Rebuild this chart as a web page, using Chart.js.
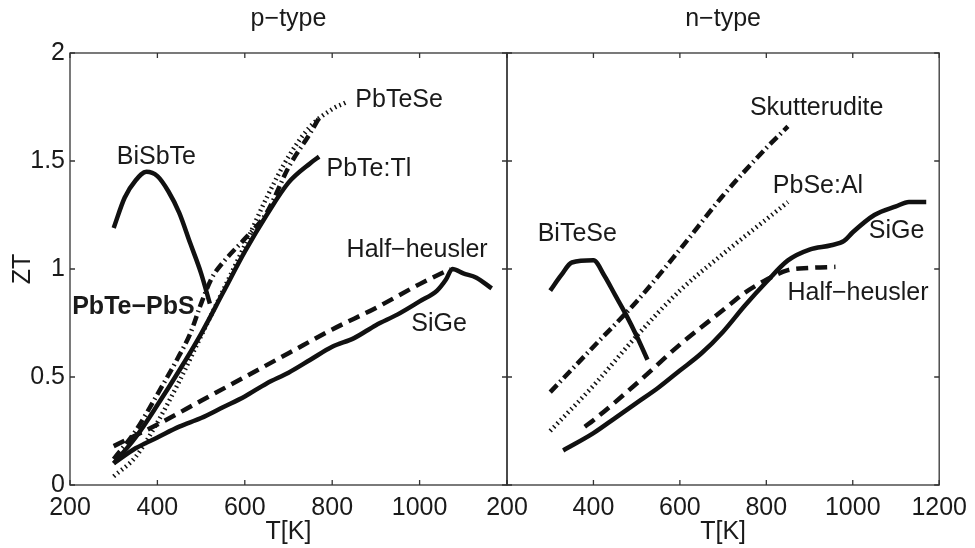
<!DOCTYPE html>
<html>
<head>
<meta charset="utf-8">
<script src="https://cdn.jsdelivr.net/npm/chart.js@4.4.0/dist/chart.umd.min.js"></script>
<style>
body { margin: 0; background: #fff; }
#wrap { position: relative; width: 975px; height: 548px; overflow: hidden; }
canvas { position: absolute; top: 0; }
#pChart { left: 0; }
#nChart { left: 440px; }
</style>
</head>
<body>
<div id="wrap">
<canvas id="pChart" width="515" height="548"></canvas>
<canvas id="nChart" width="535" height="548"></canvas>
</div>
<script>
// ---- p-type data (T in K, ZT) ----
var bisbteT  = [300, 325, 350, 375, 400, 425, 450, 475, 500, 520];
var bisbteZT = [1.19, 1.33, 1.41, 1.45, 1.43, 1.36, 1.26, 1.12, 0.98, 0.84];

var pbteTlT  = [300, 350, 400, 450, 500, 550, 600, 650, 700, 750, 770];
var pbteTlZT = [0.10, 0.22, 0.37, 0.53, 0.70, 0.89, 1.08, 1.25, 1.40, 1.49, 1.52];

var pbtePbsT  = [300, 350, 400, 450, 475, 500, 525, 550, 600, 650, 700, 750, 770];
var pbtePbsZT = [0.12, 0.25, 0.42, 0.60, 0.70, 0.84, 0.96, 1.03, 1.14, 1.26, 1.47, 1.63, 1.70];

var pbteSeT  = [300, 350, 400, 450, 500, 550, 600, 650, 700, 750, 800, 830];
var pbteSeZT = [0.04, 0.13, 0.29, 0.48, 0.69, 0.90, 1.11, 1.33, 1.52, 1.66, 1.74, 1.77];

var hhPT  = [300, 400, 500, 600, 700, 800, 900, 1000, 1070];
var hhPZT = [0.18, 0.28, 0.39, 0.50, 0.61, 0.72, 0.82, 0.93, 1.00];

var sigePT  = [300, 350, 400, 450, 500, 550, 600, 650, 700, 750, 800, 850, 900, 950, 1000, 1040, 1060, 1075, 1100, 1130, 1165];
var sigePZT = [0.10, 0.17, 0.22, 0.27, 0.31, 0.36, 0.41, 0.47, 0.52, 0.58, 0.64, 0.68, 0.74, 0.79, 0.85, 0.90, 0.95, 1.00, 0.98, 0.96, 0.91];

// ---- n-type data ----
var biteseT  = [300, 325, 350, 400, 425, 450, 475, 500, 525];
var biteseZT = [0.90, 0.97, 1.03, 1.04, 0.97, 0.88, 0.79, 0.69, 0.58];

var skuttT  = [300, 400, 500, 600, 700, 800, 850];
var skuttZT = [0.43, 0.64, 0.85, 1.09, 1.34, 1.56, 1.66];

var pbseAlT  = [300, 400, 500, 600, 700, 800, 850];
var pbseAlZT = [0.25, 0.46, 0.69, 0.90, 1.07, 1.23, 1.31];

var hhNT  = [380, 400, 500, 600, 700, 750, 800, 850, 900, 960];
var hhNZT = [0.27, 0.30, 0.47, 0.65, 0.81, 0.89, 0.95, 0.995, 1.005, 1.01];

var sigeNT  = [330, 400, 450, 500, 550, 600, 650, 700, 750, 800, 850, 900, 950, 980, 1000, 1050, 1100, 1130, 1170];
var sigeNZT = [0.16, 0.24, 0.31, 0.38, 0.45, 0.53, 0.61, 0.71, 0.83, 0.94, 1.04, 1.09, 1.11, 1.13, 1.17, 1.25, 1.29, 1.31, 1.31];

// ---- axis ticks ----
var xTicks = [200, 400, 600, 800, 1000, 1200];
var yTicks = [0, 0.5, 1, 1.5, 2];

// ---- curve labels (text, T, ZT) ----
var pLabelText = ["BiSbTe", "PbTeSe", "PbTe:Tl", "Half\u2212heusler", "SiGe", "PbTe\u2212PbS"];
var pLabelT    = [307, 853, 787, 833, 981, 205];
var pLabelZT   = [1.516, 1.78, 1.463, 1.088, 0.745, 0.822];
var pLabelBold = [false, false, false, false, false, true];

var nLabelText = ["BiTeSe", "Skutterudite", "PbSe:Al", "SiGe", "Half\u2212heusler"];
var nLabelT    = [271, 762, 815, 1037, 849];
var nLabelZT   = [1.162, 1.745, 1.384, 1.176, 0.889];
var nLabelBold = [false, false, false, false, false];

var FONT = "'Liberation Sans', Arial, Helvetica, sans-serif";
var INK = '#111';

function points(ts, zs) {
    var out = [];
    for (var i = 0; i < ts.length; i++) out.push({x: ts[i], y: zs[i]});
    return out;
}

var SOLID = [];
var DASHED = [12, 7];
var DASHDOT = [10, 4, 1.5, 4];
var DOTTED = [1.5, 3.5];

function series(ts, zs, dash) {
    return {
        data: points(ts, zs),
        borderColor: INK,
        borderWidth: 4.5,
        borderDash: dash,
        borderCapStyle: 'butt',
        borderJoinStyle: 'round',
        pointRadius: 0,
        fill: false,
        cubicInterpolationMode: 'monotone'
    };
}

// box with inward ticks + curve labels
var matlabBox = {
    id: 'matlabBox',
    afterDatasetsDraw: function (chart) {
        var ctx = chart.ctx, a = chart.chartArea;
        var xs = chart.scales.x, ys = chart.scales.y;
        ctx.save();
        ctx.strokeStyle = '#333';
        ctx.lineWidth = 1.3;
        ctx.strokeRect(a.left, a.top, a.right - a.left, a.bottom - a.top);
        ctx.beginPath();
        xs.ticks.forEach(function (t) {
            var px = xs.getPixelForValue(t.value);
            ctx.moveTo(px, a.bottom); ctx.lineTo(px, a.bottom - 5);
            ctx.moveTo(px, a.top); ctx.lineTo(px, a.top + 5);
        });
        ys.ticks.forEach(function (t) {
            var py = ys.getPixelForValue(t.value);
            ctx.moveTo(a.left, py); ctx.lineTo(a.left + 5, py);
            ctx.moveTo(a.right, py); ctx.lineTo(a.right - 5, py);
        });
        ctx.stroke();

        var lab = chart.options.plugins.matlabBox;
        ctx.fillStyle = '#1a1a1a';
        ctx.textAlign = 'left';
        ctx.textBaseline = 'middle';
        for (var i = 0; i < lab.text.length; i++) {
            ctx.font = (lab.bold[i] ? 'bold ' : '') + '25px ' + FONT;
            ctx.fillText(lab.text[i], xs.getPixelForValue(lab.t[i]), ys.getPixelForValue(lab.zt[i]));
        }
        ctx.restore();
    }
};

function makeOptions(title, showY, hideLast, labels, rightPad, yWidth) {
    return {
        responsive: false,
        animation: false,
        layout: {padding: {left: 0, right: rightPad, top: 0, bottom: 0}},
        plugins: {
            legend: {display: false},
            tooltip: {enabled: false},
            title: {
                display: true,
                text: title,
                fullSize: false,
                color: '#1a1a1a',
                font: {family: FONT, size: 25, weight: 'normal'},
                padding: {top: 4, bottom: 19}
            },
            matlabBox: labels
        },
        scales: {
            x: {
                type: 'linear',
                min: 200,
                max: 1200,
                afterBuildTicks: function (s) { s.ticks = xTicks.map(function (v) { return {value: v}; }); },
                afterFit: function (s) { s.height = 63; },
                grid: {display: false, drawTicks: false},
                border: {display: false},
                ticks: {
                    color: '#1a1a1a',
                    padding: 8,
                    maxRotation: 0,
                    font: {family: FONT, size: 25},
                    callback: function (v) { return (hideLast && v === 1200) ? '' : String(v); }
                },
                title: {
                    display: true,
                    text: 'T[K]',
                    color: '#1a1a1a',
                    font: {family: FONT, size: 25},
                    padding: {top: 0, bottom: 1}
                }
            },
            y: {
                min: 0,
                max: 2,
                afterBuildTicks: function (s) { s.ticks = yTicks.map(function (v) { return {value: v}; }); },
                afterFit: function (s) { s.width = yWidth; },
                grid: {display: false, drawTicks: false},
                border: {display: false},
                ticks: {
                    display: showY,
                    color: '#1a1a1a',
                    padding: 5,
                    font: {family: FONT, size: 25},
                    callback: function (v) { return String(v); }
                },
                title: {
                    display: showY,
                    text: 'ZT',
                    color: '#1a1a1a',
                    font: {family: FONT, size: 25},
                    padding: {top: 8, bottom: 0}
                }
            }
        }
    };
}

function makeCharts() {
    new Chart(document.getElementById('pChart'), {
        type: 'line',
        data: {
            datasets: [
                series(bisbteT, bisbteZT, SOLID),
                series(pbteTlT, pbteTlZT, SOLID),
                series(pbtePbsT, pbtePbsZT, DASHDOT),
                series(pbteSeT, pbteSeZT, DOTTED),
                series(hhPT, hhPZT, DASHED),
                series(sigePT, sigePZT, SOLID)
            ]
        },
        options: makeOptions('p\u2212type', true, true,
            {text: pLabelText, t: pLabelT, zt: pLabelZT, bold: pLabelBold}, 7.3, 70),
        plugins: [matlabBox]
    });

    new Chart(document.getElementById('nChart'), {
        type: 'line',
        data: {
            datasets: [
                series(biteseT, biteseZT, SOLID),
                series(skuttT, skuttZT, DASHDOT),
                series(pbseAlT, pbseAlZT, DOTTED),
                series(hhNT, hhNZT, DASHED),
                series(sigeNT, sigeNZT, SOLID)
            ]
        },
        options: makeOptions('n\u2212type', false, false,
            {text: nLabelText, t: nLabelT, zt: nLabelZT, bold: nLabelBold}, 32.3, 67),
        plugins: [matlabBox]
    });
}

document.addEventListener('DOMContentLoaded', makeCharts);
</script>
</body>
</html>
